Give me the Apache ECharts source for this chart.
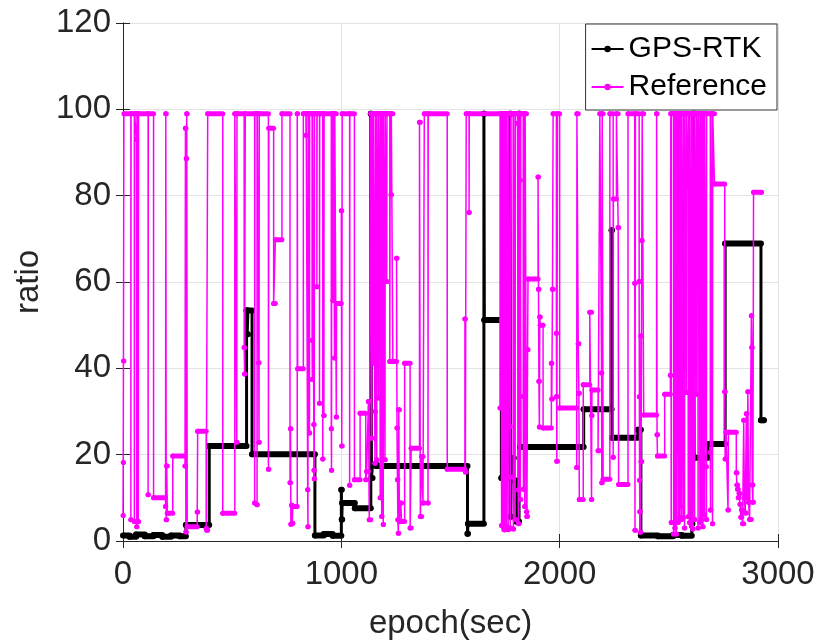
<!DOCTYPE html>
<html>
<head>
<meta charset="utf-8">
<script src="https://cdn.jsdelivr.net/npm/echarts@6/dist/echarts.min.js"></script>
<style>
html,body{margin:0;padding:0;background:#fff;}
#c{width:818px;height:644px;}
</style>
</head>
<body>
<div id="c"></div>
<script>
const xTicks = [0, 1000, 2000, 3000];
const yTicks = [0, 20, 40, 60, 80, 100, 120];
const seriesNames = ['GPS-RTK', 'Reference'];

// [epoch, ratio] samples; each value holds until the next sample
const gpsRtk = [[0,1.3],[30,1.0],[60,1.5],[100,1.1],[140,1.4],[180,1.0],[220,1.3],[260,1.1],[288,3.7],[395,22],[566,53.4],[569,47.9],[572,53.4],[591,20.1],[879,1.3],[920,1.6],[960,1.2],[1000,11.9],[1002,5],[1004,8.8],[1062,7.6],[1135,99],[1138,14.6],[1143,17.7],[1160,17.4],[1578,1.7],[1580,4],[1653,99],[1655,51.2],[1733,14.6],[1772,99],[1776,5.6],[1779,19.2],[1790,14],[1800,4.5],[1814,99],[1818,21.8],[2110,30.5],[2238,72],[2240,23.9],[2358,25.8],[2372,1.3],[2450,1.1],[2520,1.4],[2560,1.2],[2605,4],[2608,19.7],[2612,99],[2616,19.3],[2680,22.5],[2758,68.9],[2922,28],[2935,28]];

const reference = [
[0,5.9],[1,18.2],[2,41.7],[4,99],
[36,4.9],[37,99],[52,4.5],[53,99],[62,93],[63,3.3],[64,99],[70,4.5],[71,99],[115,10.7],[116,99],
[140,10],[195,8],[196,99],[198,4.9],[200,17.4],[203,6.4],[228,19.7],
[284,17.4],[286,95.6],[288,2.1],[290,88.6],[292,99],[294,3.3],
[340,6.7],[342,25.4],[381,2.9],[384,2.5],[388,99],
[457,6.4],[512,99],[521,22.9],[522,99],[555,44.8],[557,38.7],[560,99],
[603,8.8],[604,99],[614,8.4],[615,99],[622,41.3],[623,22.9],[624,99],[666,16.6],[668,95.6],[690,55],[698,69.8],[728,99],
[765,13.5],[767,26],[769,3.9],[772,8.3],[775,4.1],[778,8],[798,99],[800,39.9],[826,99],
[838,94],[839,99],[846,11.9],[847,3.3],[848,99],[854,25],[855,99],[866,46.5],[867,37.4],[868,99],[874,27],[875,16.4],[876,14.4],[877,99],
[888,58.9],[889,99],[900,31.9],[901,99],[915,19],[916,99],[920,29.1],[921,99],[954,26],[955,16.4],[956,99],[962,55.7],[963,99],[969,42.4],[970,99],[977,28.7],[978,55],
[1000,76.5],[1002,22],[1004,99],
[1038,12.9],[1039,99],[1060,14.2],[1086,29.6],[1112,14.2],[1116,16.1],[1124,32.3],[1128,4.9],[1135,99],
[1138,50.1],[1139,23.8],[1140,99],[1146,41.2],[1147,99],[1154,18],[1155,30],[1156,99],[1162,18.8],[1163,99],[1170,33.1],[1171,99],[1177,50.5],[1178,10],[1179,99],[1185,5.7],[1186,99],[1192,3.8],[1193,99],[1200,18.8],[1201,99],[1208,60.1],[1209,99],[1222,41.6],[1224,99],[1228,80.2],[1229,99],
[1236,41.6],[1253,65.5],[1255,26.2],[1257,14.2],[1259,4.9],[1261,1.8],[1263,30.4],[1266,4.5],[1272,8.8],[1276,4.5],[1290,41.2],[1315,3],[1320,21.5],
[1358,97],[1362,5.7],[1368,19.6],[1374,8.8],[1380,99],[1397,8.8],[1398,99],[1485,16.6],[1566,51.4],[1568,16],[1572,99],[1585,76.1],[1586,99],
[1727,30.8],[1728,99],[1733,51],[1734,3.6],[1735,99],[1740,3.4],[1741,99],[1745,2.6],[1746,99],[1750,2.6],[1751,99],[1756,3.4],[1757,99],[1764,2.6],[1765,99],[1772,26.5],[1773,14.8],[1774,3],[1775,99],[1787,14.8],[1788,2.8],[1789,99],[1796,5],[1797,99],[1807,96.8],[1810,11.8],[1812,4],[1814,99],[1818,83.6],[1820,9.6],[1822,99],[1833,33.5],[1834,12],[1836,99],[1840,8],[1842,99],[1848,6.8],[1850,5.7],[1853,44.3],[1855,60.7],
[1901,84.3],[1903,58.3],[1905,37],[1907,26.4],[1909,51.9],[1911,50],[1924,26.2],[1962,41.2],[1964,32.9],[1967,58.3],[1970,99],[1985,48.1],[1986,33.5],[1987,18.5],[1990,99],[2000,30.8],
[2078,17],[2079,99],[2085,45.7],[2088,34.2],[2090,9.6],[2108,36.2],[2138,53],[2146,9.6],[2147,29.1],[2148,35],[2176,20.9],[2184,99],[2192,38.9],[2193,13.5],[2195,99],[2199,14.3],[2230,99],[2245,19.4],[2246,79.2],[2260,99],[2268,72.6],[2270,13.1],
[2313,99],[2344,59.7],[2345,2.5],[2347,99],[2364,60.1],[2365,33.4],[2366,14.1],[2367,6.8],[2370,2],[2372,47.5],[2373,18.4],[2376,69.6],[2378,99],[2385,29.2],[2444,99],[2446,24.6],[2448,19.7],[2481,34],[2507,38.4],[2509,99],
[2511,4.3],[2512,99],[2522,1.6],[2523,99],[2528,3],[2529,99],[2534,1.6],[2535,99],[2538,20],[2539,99],[2542,4.3],[2543,99],[2549,5.4],[2550,99],[2553,8],[2554,99],[2557,5],[2558,99],[2565,5.4],[2566,99],[2572,3],[2573,99],[2580,34.4],[2581,99],[2588,82],[2589,5.6],[2590,99],[2595,4.3],[2596,99],[2603,3.5],[2604,99],[2610,2.8],[2611,99],[2618,5],[2619,99],[2626,34],[2627,99],[2633,89.4],[2634,3],[2635,99],[2641,77.6],[2642,4.3],[2643,99],[2649,5],[2650,99],[2656,3.3],[2657,99],[2663,6],[2664,99],[2671,17.2],[2672,5],[2673,99],
[2690,20.5],[2691,7.2],[2693,99],[2700,4],[2701,99],[2709,82.7],[2756,34.6],[2758,19],[2762,25.2],[2771,7.2],[2773,25.2],
[2809,15.8],[2812,13],[2815,12],[2818,10],[2822,11],[2826,8.5],[2830,5.5],[2834,7.2],[2838,4],[2843,28],[2846,10],[2850,6.5],[2855,29.5],[2858,10],[2862,34.6],[2865,9],[2870,5],[2878,52.2],[2880,44.8],[2882,13],[2885,9],[2888,80.8],[2924,80.8]
];

const FONT = '"Liberation Sans", Arial, Helvetica, sans-serif';
const AX = '#262626';

function holds(arr) {
  const out = [];
  for (let i = 0; i < arr.length; i++) {
    const nx = i < arr.length - 1 ? arr[i + 1][0] : arr[i][0];
    out.push([arr[i][0], arr[i][1], nx]);
  }
  return out;
}
function holdRenderer(color, w) {
  return function (params, api) {
    const a = api.coord([api.value(0), api.value(1)]);
    const b = api.coord([api.value(2), api.value(1)]);
    return {
      type: 'line',
      shape: { x1: a[0], y1: a[1], x2: b[0], y2: b[1] },
      style: { stroke: color, lineWidth: w, lineCap: 'round', fill: null }
    };
  };
}

const chart = echarts.init(document.getElementById('c'), null, { renderer: 'canvas' });
const xMin = xTicks[0], xMax = xTicks[xTicks.length - 1], xInt = xTicks[1] - xTicks[0];
const yMin = yTicks[0], yMax = yTicks[yTicks.length - 1], yInt = yTicks[1] - yTicks[0];

const tick = { show: true, inside: true, length: 7, lineStyle: { color: AX, width: 1 } };
const axLine = { show: true, lineStyle: { color: AX, width: 1 } };
const plain = function (v) { return String(v); };

chart.setOption({
  animation: false,
  backgroundColor: '#fff',
  grid: { left: 123, right: 40, top: 23, bottom: 103, containLabel: false, outerBoundsMode: 'none' },
  legend: {
    data: seriesNames,
    orient: 'vertical',
    right: 41,
    top: 24,
    padding: [10, 10, 8, 5],
    itemGap: 8,
    itemWidth: 32,
    itemHeight: 8,
    backgroundColor: '#fff',
    borderColor: '#333',
    borderWidth: 1,
    textStyle: { fontFamily: FONT, fontSize: 30, color: '#000', lineHeight: 30 }
  },
  xAxis: [{
    type: 'value', min: xMin, max: xMax, interval: xInt,
    name: 'epoch(sec)', nameLocation: 'middle', nameGap: 66,
    nameTextStyle: { fontFamily: FONT, fontSize: 33, color: AX },
    axisLine: axLine, axisTick: tick,
    axisLabel: { fontFamily: FONT, fontSize: 33, color: AX, margin: 17, formatter: plain },
    splitLine: { show: true, lineStyle: { color: '#e3e3e3', width: 1 } }
  }, {
    type: 'value', min: xMin, max: xMax, interval: xInt, position: 'top',
    axisLine: axLine, axisTick: tick, axisLabel: { show: false }, splitLine: { show: false }
  }],
  yAxis: [{
    type: 'value', min: yMin, max: yMax, interval: yInt,
    name: 'ratio', nameLocation: 'middle', nameGap: 54,
    nameTextStyle: { fontFamily: FONT, fontSize: 33, color: AX },
    axisLine: axLine, axisTick: tick,
    axisLabel: { fontFamily: FONT, fontSize: 33, color: AX, margin: 12, formatter: plain },
    splitLine: { show: true, lineStyle: { color: '#e3e3e3', width: 1 } }
  }, {
    type: 'value', min: yMin, max: yMax, interval: yInt, position: 'right',
    axisLine: axLine, axisTick: tick, axisLabel: { show: false }, splitLine: { show: false }
  }],
  series: [{
    name: seriesNames[0], type: 'line', data: gpsRtk, step: 'end',
    symbol: 'circle', symbolSize: 6, showSymbol: true, showAllSymbol: true,
    lineStyle: { color: '#000', width: 3 }, itemStyle: { color: '#000' },
    z: 2, silent: true, clip: true
  }, {
    name: 'gpsHold', type: 'custom', data: holds(gpsRtk),
    encode: { x: [0, 2], y: 1 }, renderItem: holdRenderer('#000', 6),
    z: 2, silent: true, clip: true
  }, {
    name: seriesNames[1], type: 'line', data: reference, step: 'end',
    symbol: 'circle', symbolSize: 5, showSymbol: true, showAllSymbol: true,
    lineStyle: { color: '#ff00ff', width: 1.5 }, itemStyle: { color: '#ff00ff' },
    z: 4, silent: true, clip: true
  }, {
    name: 'refHold', type: 'custom', data: holds(reference),
    encode: { x: [0, 2], y: 1 }, renderItem: holdRenderer('#ff00ff', 5),
    z: 4, silent: true, clip: true
  }]
});
</script>
</body>
</html>
